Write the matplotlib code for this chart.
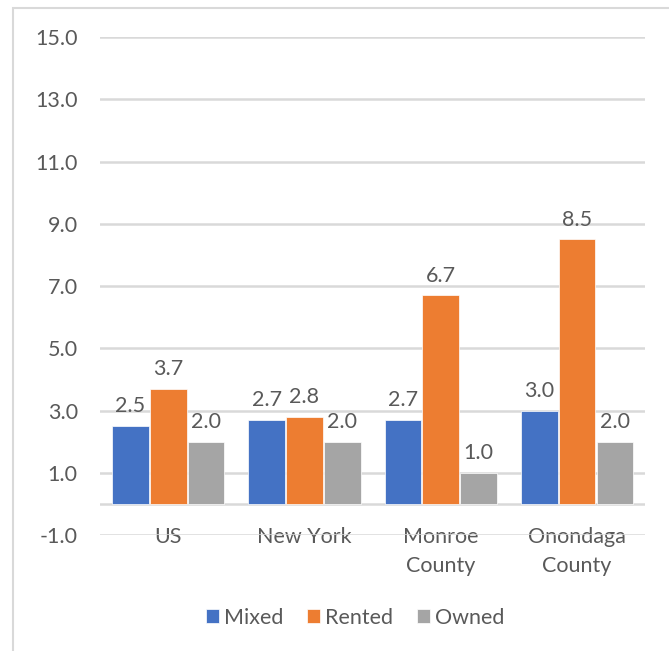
import numpy as np
import matplotlib.pyplot as plt
from matplotlib.patches import Rectangle

categories = ["US", "New York", "Monroe\nCounty", "Onondaga\nCounty"]
mixed = [2.5, 2.7, 2.7, 3.0]
rented = [3.7, 2.8, 6.7, 8.5]
owned = [2.0, 2.0, 1.0, 2.0]
series_names = ["Mixed", "Rented", "Owned"]
colors = ["#4472C4", "#ED7D31", "#A5A5A5"]
yticks = [-1.0, 1.0, 3.0, 5.0, 7.0, 9.0, 11.0, 13.0, 15.0]

plt.rcParams['font.family'] = ['Lato', 'DejaVu Sans']
text_color = "#595959"
grid_color = "#D9D9D9"
fs = 15.5

fig = plt.figure(figsize=(6.69, 6.51), dpi=100)
ax = fig.add_axes([0.1495, 0.178, 0.815, 0.765])

# outer chart frame (only left/top visible in the reference)
fig.patches.append(Rectangle((13 / 669, -0.05), 1.1, 1 - 8 / 651 + 0.05,
                             transform=fig.transFigure, fill=False,
                             edgecolor=grid_color, linewidth=1.5))

x = np.arange(len(categories))
width = 0.278
for i, (vals, name, c) in enumerate(zip([mixed, rented, owned], series_names, colors)):
    bars = ax.bar(x + (i - 1) * width, vals, width * 0.97, color=c, label=name,
                  zorder=3, edgecolor="white", linewidth=0.5)
    for b, v in zip(bars, vals):
        ax.annotate(f"{v:.1f}", (b.get_x() + b.get_width() / 2, v),
                    xytext=(0, 7), textcoords="offset points",
                    ha="center", va="bottom", fontsize=fs, color=text_color)

ax.set_ylim(-1, 15)
ax.set_xlim(-0.5, len(categories) - 0.5)
ax.set_yticks(yticks)
ax.set_yticklabels([f"{t:.1f}" for t in yticks])
ax.yaxis.grid(True, color=grid_color, linewidth=1.8, zorder=0)
ax.axhline(0, color=grid_color, linewidth=1.8, zorder=1)
ax.set_xticks(x)
ax.set_xticklabels(categories, linespacing=1.6)
ax.tick_params(axis="x", length=0, pad=-6, labelsize=fs, labelcolor=text_color)
ax.tick_params(axis="y", length=0, pad=16, labelsize=fs, labelcolor=text_color)
for s in ax.spines.values():
    s.set_visible(False)
ax.set_axisbelow(True)

ax.legend(loc="center", bbox_to_anchor=(0.468, -0.166), ncol=3, frameon=False,
          fontsize=fs, labelcolor=text_color, handlelength=0.6, handleheight=0.6,
          handletextpad=0.25, columnspacing=1.1)

fig.savefig("out.png", dpi=100)
